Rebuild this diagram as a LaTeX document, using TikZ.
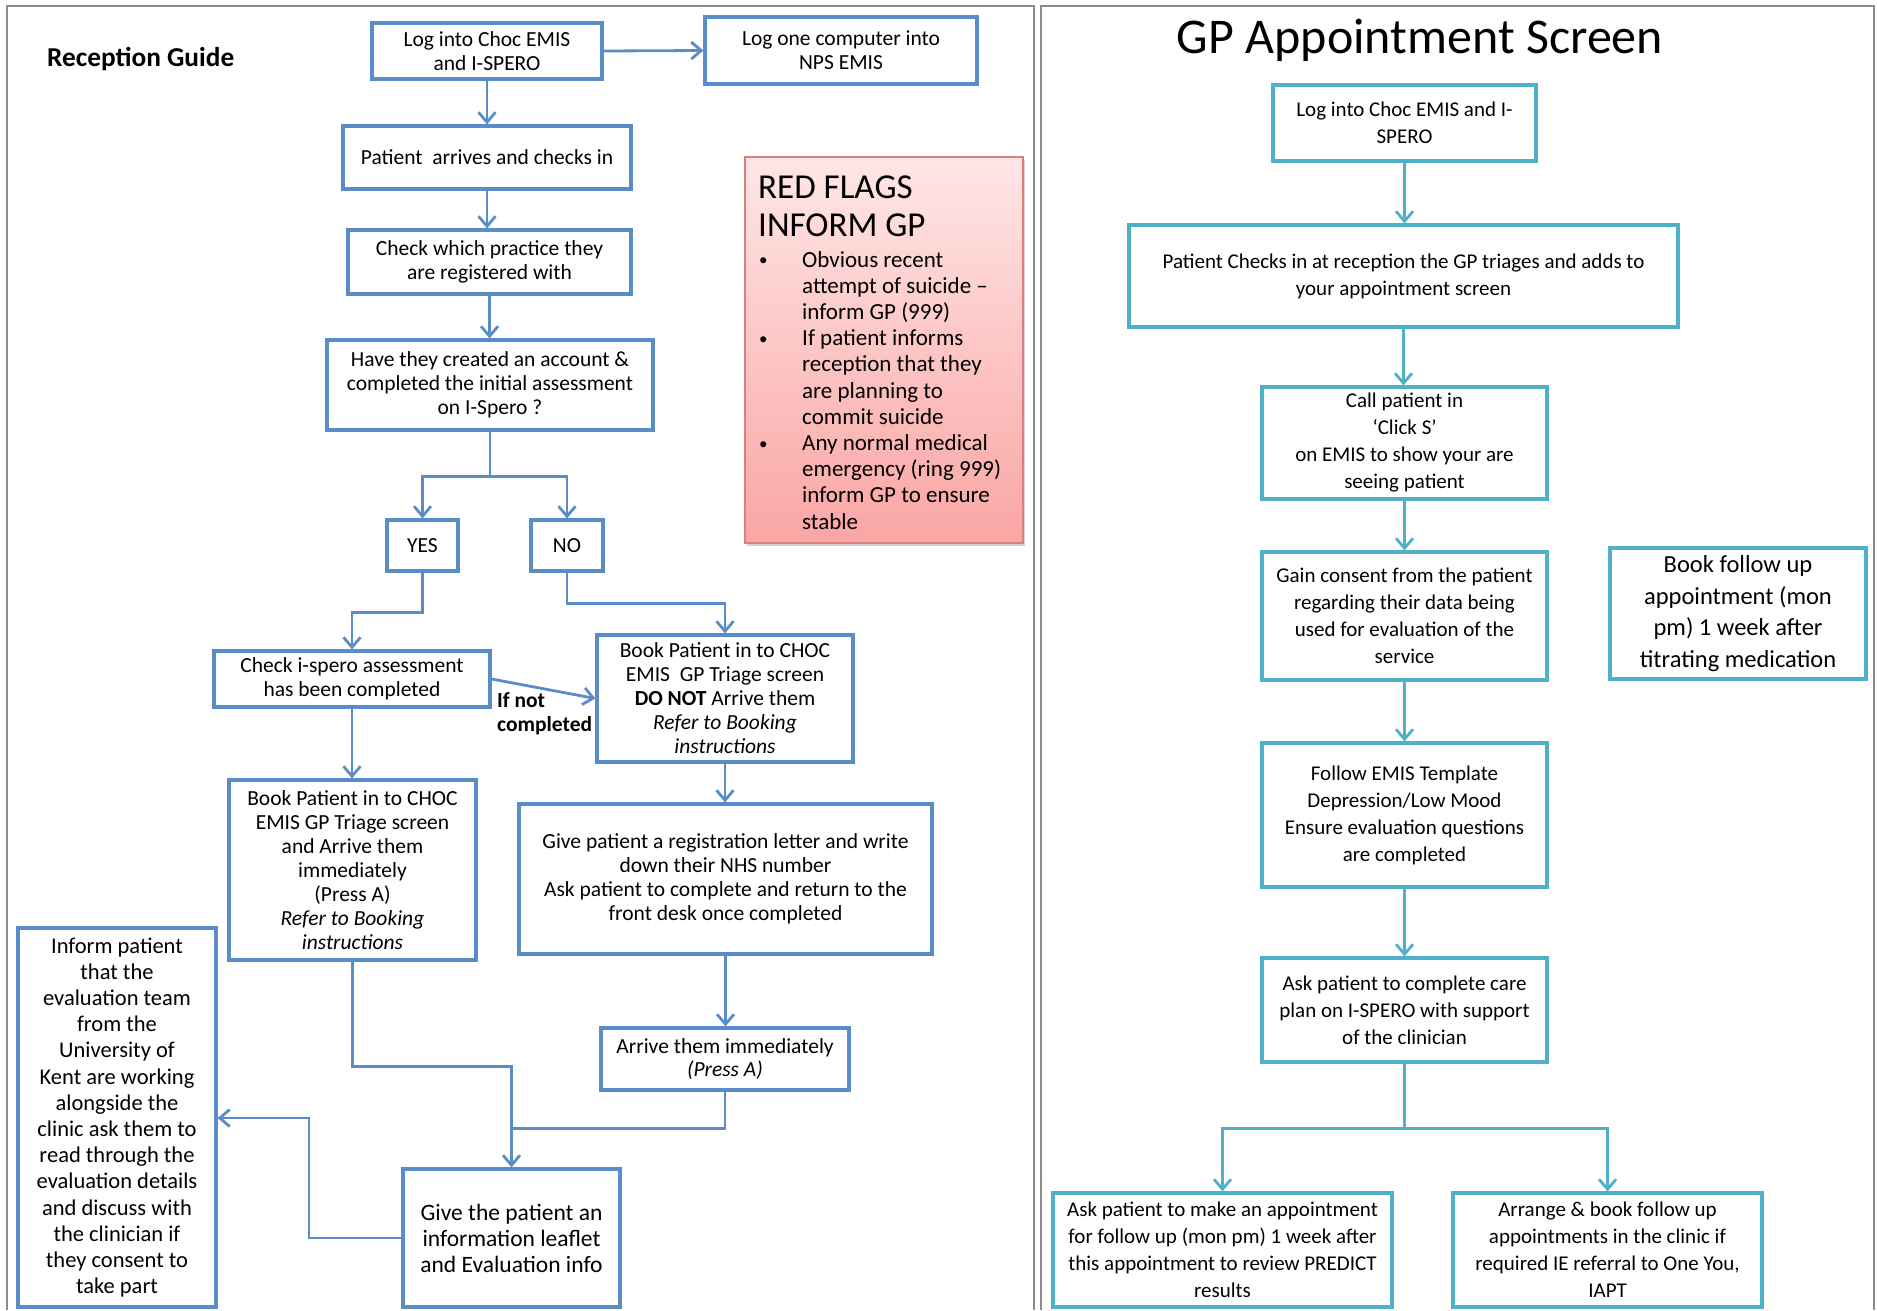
\documentclass[tikz,border=0pt]{standalone}
\usepackage{fontspec}
\setmainfont{Carlito}
\usetikzlibrary{arrows.meta,shadows}

\definecolor{lblue}{HTML}{5A8CC8}
\definecolor{rteal}{HTML}{4FB1C9}
\definecolor{panelgray}{HTML}{8C8C8C}
\definecolor{flagtop}{HTML}{FFE6E6}
\definecolor{flagbot}{HTML}{F9A6A4}
\definecolor{flagline}{HTML}{DD7E7C}

% bullet and hanging indent for the red-flag list
\newcommand\flagbul{\makebox[43pt][l]{\raisebox{1.5pt}{\fontsize{17}{17}\selectfont •}}}
\newcommand\flagind{\hspace*{43pt}}

\begin{document}
\begin{tikzpicture}[x=1pt,y=-1pt,
  % a rectangle given by its two corners (x1,y1) (x2,y2)
  span/.style n args={4}{at={({(#1+#3)/2},{(#2+#4)/2})},
    minimum width={(#3)-(#1)}, minimum height={(#4)-(#2)}},
  lbox/.style={draw=lblue, line width=3.2pt, fill=white, inner sep=0pt,
    align=center, font=\fontsize{21.5}{24}\selectfont},
  rbox/.style={draw=rteal, line width=3.2pt, fill=white, inner sep=0pt,
    align=center, font=\fontsize{21}{27}\selectfont},
  larr/.style={draw=lblue, line width=2.8pt, -{Straight Barb[length=10pt,width=17pt]}},
  lline/.style={draw=lblue, line width=2.8pt},
  rarr/.style={draw=rteal, line width=2.8pt, -{Straight Barb[length=10pt,width=17pt]}},
  panel/.style={draw=panelgray, line width=2.4pt},
]
\useasboundingbox (0,0) rectangle (1877,1310);

% page frames
\draw[panel] (7,1310) -- (7,6) -- (1034,6) -- (1034,1310);
\draw[panel] (1041,1310) -- (1041,6) -- (1874,6) -- (1874,1310);

% ---------------- Reception guide ----------------
\node[font=\bfseries\fontsize{27.3}{30}\selectfont, anchor=base west, inner sep=0pt] (rg) at (47,66) {Reception Guide};

\node[lbox, span={372}{23}{602}{79}] (b1) {Log into Choc EMIS\\and I-SPERO};
\node[lbox, span={705}{17}{977}{84}] (b2) {Log one computer into\\NPS EMIS};
\node[lbox, span={343}{126}{631}{189}] (b3) {Patient~ arrives and checks in};
\node[lbox, span={348}{230}{631}{294}] (b4) {Check which practice they\\are registered with};
\node[lbox, span={327}{340}{653}{430}] (b5) {Have they created an account \&\\completed the initial assessment\\on I-Spero ?};
\node[lbox, span={387}{520}{458}{571}] (yes) {YES};
\node[lbox, span={531}{520}{603}{571}] (no) {NO};
\node[lbox, span={214}{651}{490}{707}] (chk) {Check i-spero assessment\\has been completed};
\node[lbox, span={597}{635}{853}{762}] (bno) {Book Patient in to CHOC\\EMIS~ GP Triage screen\\\textbf{DO NOT} Arrive them\\\textit{Refer to Booking}\\\textit{instructions}};
\node[lbox, span={229}{780}{476}{960}] (byes) {Book Patient in to CHOC\\EMIS GP Triage screen\\and Arrive them\\immediately\\(Press A)\\\textit{Refer to Booking}\\\textit{instructions}};
\node[lbox, span={519}{804}{932}{954}] (greg) {Give patient a registration letter and write\\down their NHS number\\Ask patient to complete and return to the\\front desk once completed};
\node[lbox, span={601}{1028}{849}{1090}, font=\fontsize{21.5}{23}\selectfont] (arrv) {Arrive them immediately\\\textit{(Press A)}};
\node[lbox, span={403}{1169}{620}{1307}, font=\fontsize{23.5}{26}\selectfont] (leaf) {Give the patient an\\information leaflet\\and Evaluation info};
\node[lbox, span={18}{928}{216}{1307}, font=\fontsize{22.5}{26.2}\selectfont] (inf) {Inform patient\\that the\\evaluation team\\from the\\University of\\Kent are working\\alongside the\\clinic ask them to\\read through the\\evaluation details\\and discuss with\\the clinician if\\they consent to\\take part};

\node[anchor=north west, inner sep=0pt, align=left, font=\bfseries\fontsize{21.5}{24}\selectfont] (ifnot) at (497,692) {If not\\completed};

% red flags panel
\node[span={745}{157}{1023}{543}, inner sep=0pt, draw=flagline, line width=1.3pt,
      top color=flagtop, bottom color=flagbot,
      drop shadow={shadow xshift=2pt, shadow yshift=-3pt, opacity=0.35}] (flags) {};
\node[anchor=north west, inner sep=0pt, align=left, font=\fontsize{35}{38}\selectfont] (ftitle) at (758,176) {RED FLAGS\\INFORM GP};
\node[anchor=north west, inner sep=0pt, align=left, font=\fontsize{23}{26.2}\selectfont] (flist) at (759,251)
  {\flagbul Obvious recent\\\flagind attempt of suicide –\\\flagind inform GP (999)\\
   \flagbul If patient informs\\\flagind reception that they\\\flagind are planning to\\\flagind commit suicide\\
   \flagbul Any normal medical\\\flagind emergency (ring 999)\\\flagind inform GP to ensure\\\flagind stable};

% connectors
\draw[larr] (b1.east) -- (b2.west);
\draw[larr] (b1.south) -- (b1.south |- b3.north);
\draw[larr] (b3.south) -- (b3.south |- b4.north);
\draw[larr] (b4.south) -- (b4.south |- b5.north);
\draw[larr] (b5.south) -- ++(0,45) -| (yes.north);
\draw[larr] (b5.south) -- ++(0,45) -| (no.north);
\draw[larr] (yes.south) -- ++(0,40) -| (chk.north);
\draw[larr] (no.south) -- ++(0,31) -| (bno.north);
\draw[larr] (chk.east) -- (bno.west);
\draw[larr] (chk.south) -- (chk.south |- byes.north);
\draw[larr] (bno.south) -- (bno.south |- greg.north);
\draw[larr] (greg.south) -- (greg.south |- arrv.north);
\draw[larr] (byes.south) -- ++(0,105) -| (leaf.north);
\draw[lline] (arrv.south) |- ([yshift=39pt]leaf.north);
\coordinate (lv) at (309,1118);
\draw[larr] (leaf.west) -| (lv) -- (lv -| inf.east);

% ---------------- GP appointment screen ----------------
\node[font=\fontsize{50}{56}\selectfont, anchor=base, inner sep=0pt] (gpt) at (1420,53) {GP Appointment Screen};

\node[rbox, span={1273}{85}{1536}{161}] (r1) {Log into Choc EMIS and I-\\SPERO};
\node[rbox, span={1129}{225}{1678}{327}] (r2) {Patient Checks in at reception the GP triages and adds to\\your appointment screen};
\node[rbox, span={1262}{387}{1547}{499}] (r3) {Call patient in\\‘Click S’\\on EMIS to show your are\\seeing patient};
\node[rbox, span={1262}{552}{1547}{680}] (r4) {Gain consent from the patient\\regarding their data being\\used for evaluation of the\\service};
\node[rbox, span={1610}{548}{1866}{679}, font=\fontsize{24.5}{31.5}\selectfont] (r5) {Book follow up\\appointment (mon\\pm) 1 week after\\titrating medication};
\node[rbox, span={1262}{743}{1547}{887}] (r6) {Follow EMIS Template\\Depression/Low Mood\\Ensure evaluation questions\\are completed};
\node[rbox, span={1262}{958}{1547}{1062}] (r7) {Ask patient to complete care\\plan on I-SPERO with support\\of the clinician};
\node[rbox, span={1053}{1193}{1392}{1307}] (r8) {Ask patient to make an appointment\\for follow up (mon pm) 1 week after\\this appointment to review PREDICT\\results};
\node[rbox, span={1453}{1193}{1762}{1307}] (r9) {Arrange \& book follow up\\appointments in the clinic if\\required IE referral to One You,\\IAPT};

\draw[rarr] (r1.south) -- (r1.south |- r2.north);
\draw[rarr] (r2.south) -- (r2.south |- r3.north);
\draw[rarr] (r3.south) -- (r3.south |- r4.north);
\draw[rarr] (r4.south) -- (r4.south |- r6.north);
\draw[rarr] (r6.south) -- (r6.south |- r7.north);
\draw[rarr] (r7.south) -- ++(0,65) -| (r8.north);
\draw[rarr] (r7.south) -- ++(0,65) -| (r9.north);

\end{tikzpicture}
\end{document}
